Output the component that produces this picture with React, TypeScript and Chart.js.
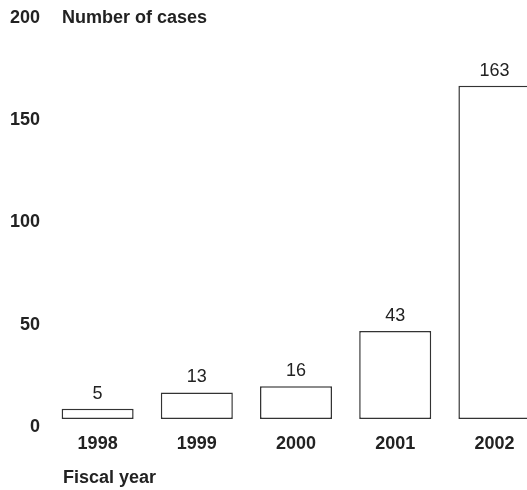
import React, { useEffect, useRef } from "react";
import { Chart, registerables } from "chart.js";

Chart.register(...registerables);

const categories = ["1998", "1999", "2000", "2001", "2002"];
const cases = [5, 13, 16, 43, 163];
const yTicks = [0, 50, 100, 150, 200];
const yAxisTitle = "Number of cases";
const xAxisTitle = "Fiscal year";

const TEXT = "#222222";
const FONT_FAMILY = "'Liberation Sans', Arial, Helvetica, sans-serif";

export default function App() {
  const ref = useRef<HTMLCanvasElement | null>(null);

  useEffect(() => {
    if (!ref.current) return;
    const labelsPlugin = {
      id: "customText",
      afterDatasetsDraw(chart: any) {
        const ctx = chart.ctx;
        const meta = chart.getDatasetMeta(0);
        ctx.save();
        ctx.fillStyle = TEXT;
        ctx.font = `18px ${FONT_FAMILY}`;
        ctx.textAlign = "center";
        ctx.textBaseline = "middle";
        meta.data.forEach((bar: any, i: number) => {
          ctx.fillText(String(cases[i]), bar.x, bar.y - 15);
        });
        ctx.font = `bold 18px ${FONT_FAMILY}`;
        ctx.textAlign = "left";
        const ys = chart.scales.y;
        ctx.fillText(yAxisTitle, 62, ys.getPixelForValue(200) + 8);
        ctx.fillText(xAxisTitle, 63, 478);
        ctx.restore();
      },
    };
    const chart = new Chart(ref.current, {
      type: "bar",
      data: {
        labels: categories,
        datasets: [
          {
            data: cases,
            backgroundColor: "#ffffff",
            borderColor: "#333333",
            borderWidth: 1.5,
            borderSkipped: false,
            barPercentage: 0.726,
            categoryPercentage: 1,
          },
        ],
      },
      options: {
        animation: false,
        responsive: false,
        devicePixelRatio: 1,
        layout: { padding: { left: 2, top: 10, right: 0, bottom: 21.4 } },
        plugins: { legend: { display: false }, tooltip: { enabled: false } },
        scales: {
          x: {
            offset: true,
            grid: { display: false, drawTicks: false },
            border: { display: false },
            ticks: {
              padding: 14,
              color: TEXT,
              font: { family: FONT_FAMILY, size: 18, weight: "bold", lineHeight: 1.2 },
            },
          },
          y: {
            min: 0,
            max: 200,
            afterBuildTicks(scale: any) {
              scale.ticks = yTicks.map((v) => ({ value: v }));
            },
            grid: { display: false, drawTicks: false },
            border: { display: false },
            ticks: {
              padding: 8,
              labelOffset: 8,
              color: TEXT,
              font: { family: FONT_FAMILY, size: 18, weight: "bold", lineHeight: 0.2 },
            },
          },
        },
      },
      plugins: [labelsPlugin],
    } as any);
    return () => chart.destroy();
  }, []);

  return (
    <div
      style={{
        position: "absolute",
        left: 0,
        top: 0,
        width: 527,
        height: 490,
        overflow: "hidden",
        background: "#ffffff",
      }}
    >
      <canvas ref={ref} width={544} height={490} style={{ width: 544, height: 490, display: "block" }} />
    </div>
  );
}
